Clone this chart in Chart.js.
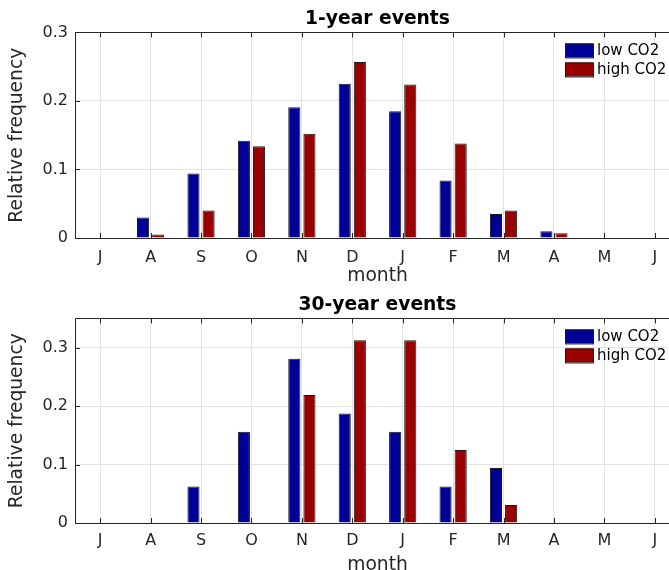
<!DOCTYPE html>
<html>
<head>
<meta charset="utf-8">
<script src="https://cdn.jsdelivr.net/npm/chart.js@4.4.1/dist/chart.umd.min.js"></script>
<style>
html, body { margin: 0; padding: 0; background: #fff; overflow: hidden; width: 669px; height: 570px; }
.panel { position: absolute; left: 0; width: 680px; }
#p1 { top: 0; height: 287px; }
#p2 { top: 286px; height: 290px; }
</style>
</head>
<body>
<div class="panel" id="p1"><canvas id="c1"></canvas></div>
<div class="panel" id="p2"><canvas id="c2"></canvas></div>
<script>
// months (Jul -> Jun)
const months = ['J', 'A', 'S', 'O', 'N', 'D', 'J', 'F', 'M', 'A', 'M', 'J'];
const seriesNames = ['low CO2', 'high CO2'];

// 1-year events
const low1 = [0, 0.030, 0.094, 0.142, 0.191, 0.225, 0.185, 0.084, 0.035, 0.010, 0, 0];
const high1 = [0, 0.005, 0.040, 0.134, 0.152, 0.257, 0.224, 0.138, 0.040, 0.007, 0, 0];

// 30-year events
const low30 = [0, 0, 0.0625, 0.156, 0.281, 0.1875, 0.156, 0.0625, 0.094, 0, 0, 0];
const high30 = [0, 0, 0, 0, 0.219, 0.3125, 0.3125, 0.125, 0.031, 0, 0, 0];

const yTicks = [0, 0.1, 0.2, 0.3];

const FONT = 'DejaVu Sans';
const INK = '#262626';
const GRID = '#e3e3e3';
const colors = ['#000099', '#990000'];

// axes box, inward ticks and the legend (MATLAB style)
const framePlugin = {
    id: 'frame',
    afterDraw(chart) {
        const ctx = chart.ctx;
        const a = chart.chartArea;
        const xs = chart.scales.x, ys = chart.scales.y;
        ctx.save();
        ctx.strokeStyle = INK;
        ctx.lineWidth = 1;
        ctx.beginPath();
        ctx.rect(Math.round(a.left) + 0.5, Math.round(a.top) + 0.5, a.right - a.left, Math.round(a.bottom - a.top));
        for (let i = 0; i < xs.ticks.length; i++) {
            const x = Math.round(xs.getPixelForTick(i)) + 0.5;
            ctx.moveTo(x, a.bottom);
            ctx.lineTo(x, a.bottom - 5);
            ctx.moveTo(x, a.top);
            ctx.lineTo(x, a.top + 5);
        }
        for (let i = 0; i < ys.ticks.length; i++) {
            const y = Math.round(ys.getPixelForTick(i)) + 0.5;
            ctx.moveTo(a.left, y);
            ctx.lineTo(a.left + 5, y);
        }
        ctx.stroke();

        // legend
        ctx.font = '15px "' + FONT + '"';
        ctx.textBaseline = 'middle';
        ctx.textAlign = 'left';
        chart.data.datasets.forEach(function(ds, i) {
            const y = a.top + 11 + i * 19;
            ctx.fillStyle = ds.backgroundColor;
            ctx.fillRect(565, y, 28, 14);
            ctx.strokeStyle = '#1a1a1a';
            ctx.strokeRect(565.5, y + 0.5, 28, 14);
            ctx.fillStyle = '#000';
            ctx.fillText(ds.label, 597, y + 7.5);
        });
        ctx.restore();
    }
};

function makeChart(id, title, low, high, yMax, xHeight, tickPad) {
    const ctx = document.getElementById(id).getContext('2d');
    return new Chart(ctx, {
        type: 'bar',
        data: {
            labels: months,
            datasets: [
                { label: seriesNames[0], data: low, backgroundColor: colors[0], borderColor: '#1a1a1a', borderWidth: 1 },
                { label: seriesNames[1], data: high, backgroundColor: colors[1], borderColor: '#1a1a1a', borderWidth: 1 }
            ]
        },
        options: {
            responsive: true,
            maintainAspectRatio: false,
            animation: false,
            layout: { padding: 0 },
            datasets: { bar: { categoryPercentage: 0.6, barPercentage: 0.8 } },
            plugins: {
                legend: { display: false },
                tooltip: { enabled: false },
                title: {
                    display: true, text: title, color: '#000', fullSize: false,
                    font: { family: FONT, size: 18.7, weight: 'bold' },
                    padding: { top: 8, bottom: 2 }
                }
            },
            scales: {
                x: {
                    grid: { color: GRID, drawTicks: false, offset: false },
                    border: { display: false },
                    ticks: { color: INK, font: { family: FONT, size: 16 }, padding: tickPad, maxRotation: 0, autoSkip: false },
                    title: { display: true, text: 'month', color: INK, font: { family: FONT, size: 18.7 }, padding: { top: 0, bottom: 0 } },
                    afterFit: function(s) { s.height = xHeight; }
                },
                y: {
                    min: 0, max: yMax,
                    grid: { color: GRID, drawTicks: false },
                    border: { display: false },
                    ticks: {
                        color: INK, font: { family: FONT, size: 16 }, padding: 7, stepSize: 0.1,
                        callback: function(v) { return v === 0 ? '0' : v.toFixed(1); }
                    },
                    afterBuildTicks: function(s) { s.ticks = yTicks.map(function(v) { return { value: v }; }); },
                    title: { display: true, text: 'Relative frequency', color: INK, font: { family: FONT, size: 18.7 }, padding: { top: 6, bottom: 0 } },
                    afterFit: function(s) { s.width = 75; }
                }
            }
        },
        plugins: [framePlugin]
    });
}

makeChart('c1', '1-year events', low1, high1, 0.3, 49, 10);
makeChart('c2', '30-year events', low30, high30, 0.35, 53, 8);
</script>
</body>
</html>
